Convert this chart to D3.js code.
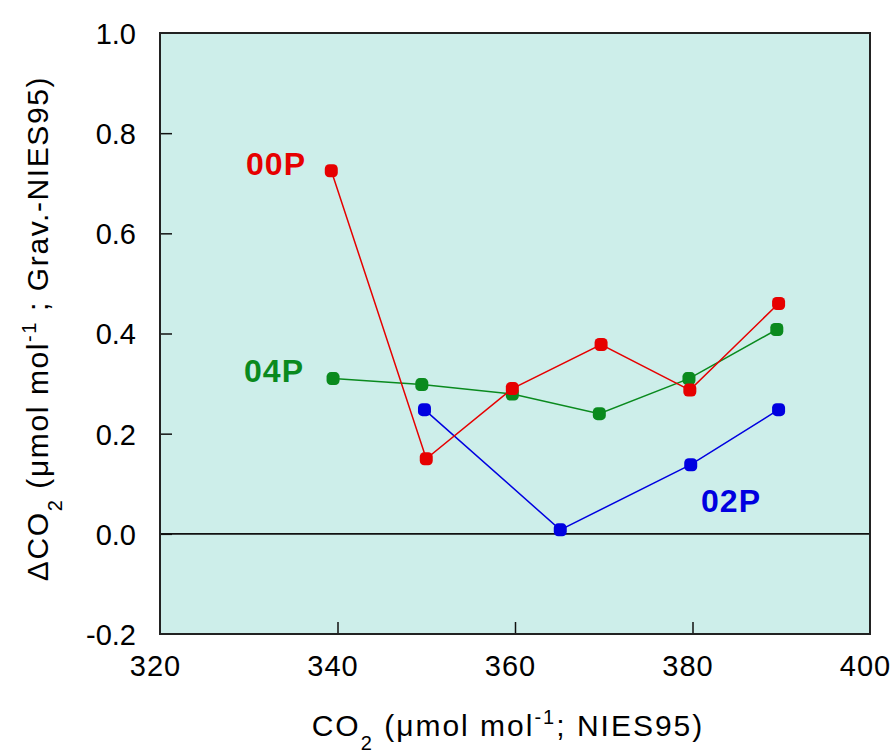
<!DOCTYPE html>
<html>
<head>
<meta charset="utf-8">
<script src="https://cdn.jsdelivr.net/npm/d3@7"></script>
<style>
  html, body { margin: 0; padding: 0; background: #fff; }
  svg { display: block; font-family: "Liberation Sans", Arial, sans-serif; }
</style>
</head>
<body>
<svg id="chart" width="895" height="755"></svg>
<script>
// Cylinder sets and their offsets (Grav. - NIES95) against NIES95 CO2 level
const series00P = [
  { x: 339.3, y: 0.725 },
  { x: 350.0, y: 0.150 },
  { x: 359.7, y: 0.290 },
  { x: 369.7, y: 0.378 },
  { x: 379.7, y: 0.287 },
  { x: 389.7, y: 0.460 }
];
const series04P = [
  { x: 339.5, y: 0.310 },
  { x: 349.5, y: 0.298 },
  { x: 359.7, y: 0.279 },
  { x: 369.5, y: 0.240 },
  { x: 379.6, y: 0.310 },
  { x: 389.5, y: 0.408 }
];
const series02P = [
  { x: 349.8, y: 0.248 },
  { x: 365.1, y: 0.008 },
  { x: 379.8, y: 0.138 },
  { x: 389.7, y: 0.248 }
];
const xTicks = [320, 340, 360, 380, 400];
const yTicks = [-0.2, 0.0, 0.2, 0.4, 0.6, 0.8, 1.0];

const svg = d3.select("#chart");
const margin = { left: 160, top: 33, right: 25, bottom: 121 };
const W = 895, H = 755;
const x = d3.scaleLinear().domain([320, 400]).range([margin.left, W - margin.right]);
const y = d3.scaleLinear().domain([-0.2, 1.0]).range([H - margin.bottom, margin.top]);

// plot background
svg.append("rect")
  .attr("x", x(320)).attr("y", y(1.0))
  .attr("width", x(400) - x(320)).attr("height", y(-0.2) - y(1.0))
  .attr("fill", "#cdeeea");

// inward ticks via d3 axes
const tickLen = 12;
const xAxis = svg.append("g")
  .attr("transform", `translate(0,${y(-0.2)})`)
  .call(d3.axisBottom(x).tickValues(xTicks).tickSize(-tickLen).tickPadding(20)
    .tickFormat(d3.format("d")));
const yAxis = svg.append("g")
  .attr("transform", `translate(${x(320)},0)`)
  .call(d3.axisLeft(y).tickValues(yTicks).tickSize(-tickLen).tickPadding(24)
    .tickFormat(d => d3.format(".1f")(d).replace("−", "-")));

[xAxis, yAxis].forEach(g => {
  g.select(".domain").remove();
  g.selectAll(".tick line").attr("stroke", "#111").attr("stroke-width", 1.5);
  g.selectAll(".tick text").attr("fill", "#000").attr("font-size", 29)
    .attr("font-family", "Liberation Sans, Arial, sans-serif");
});
xAxis.selectAll(".tick text").attr("dx", -5).attr("dy", "0.75em").attr("letter-spacing", 1);
yAxis.selectAll(".tick text").attr("dy", "0.36em");
// no tick marks at the frame corners
xAxis.selectAll(".tick").filter(d => d === 320 || d === 400).select("line").remove();
yAxis.selectAll(".tick").filter(d => d === -0.2 || d === 1.0).select("line").remove();

// zero reference line
svg.append("line")
  .attr("x1", x(320)).attr("x2", x(400))
  .attr("y1", y(0)).attr("y2", y(0))
  .attr("stroke", "#111").attr("stroke-width", 1.6);

// plot frame
svg.append("rect")
  .attr("x", x(320)).attr("y", y(1.0))
  .attr("width", x(400) - x(320)).attr("height", y(-0.2) - y(1.0))
  .attr("fill", "none").attr("stroke", "#222").attr("stroke-width", 2);

const line = d3.line().x(d => x(d.x)).y(d => y(d.y));
const sets = [
  { data: series04P, color: "#0a8a1e" },
  { data: series02P, color: "#0000e0" },
  { data: series00P, color: "#e60000" }
];
sets.forEach(s => {
  svg.append("path").datum(s.data)
    .attr("d", line).attr("fill", "none")
    .attr("stroke", s.color).attr("stroke-width", 1.5);
  svg.append("g").selectAll("rect").data(s.data).join("rect")
    .attr("x", d => x(d.x) - 6.5).attr("y", d => y(d.y) - 6.5)
    .attr("width", 13).attr("height", 13).attr("rx", 4.5)
    .attr("fill", s.color);
});

// series labels
const labels = [
  { text: "00P", color: "#e60000", px: 276, py: 175 },
  { text: "04P", color: "#0a8a1e", px: 274, py: 382 },
  { text: "02P", color: "#0000e0", px: 731, py: 512 }
];
svg.append("g").selectAll("text").data(labels).join("text")
  .attr("x", d => d.px).attr("y", d => d.py)
  .attr("text-anchor", "middle")
  .attr("font-size", 32).attr("font-weight", "bold").attr("letter-spacing", 1)
  .attr("fill", d => d.color).text(d => d.text);

// x axis title
const xt = svg.append("text")
  .attr("x", (x(320) + x(400)) / 2 - 7).attr("y", 736)
  .attr("text-anchor", "middle").attr("font-size", 30).attr("letter-spacing", 2)
  .attr("fill", "#000");
xt.append("tspan").text("CO");
xt.append("tspan").attr("font-size", 20).attr("dy", 14).text("2");
xt.append("tspan").attr("dy", -14).text(" (\u03bcmol mol");
xt.append("tspan").attr("font-size", 20).attr("dy", -12).text("-1");
xt.append("tspan").attr("dy", 12).text("; NIES95)");

// y axis title
const yt = svg.append("text")
  .attr("transform", `translate(48,${(y(1.0) + y(-0.2)) / 2 - 5}) rotate(-90)`)
  .attr("text-anchor", "middle").attr("font-size", 30).attr("letter-spacing", 1.6)
  .attr("fill", "#000");
yt.append("tspan").text("\u0394CO");
yt.append("tspan").attr("font-size", 20).attr("dy", 14).text("2");
yt.append("tspan").attr("dy", -14).text(" (\u03bcmol mol");
yt.append("tspan").attr("font-size", 20).attr("dy", -12).text("-1");
yt.append("tspan").attr("dy", 12).text(" ; Grav.-NIES95)");
</script>
</body>
</html>
